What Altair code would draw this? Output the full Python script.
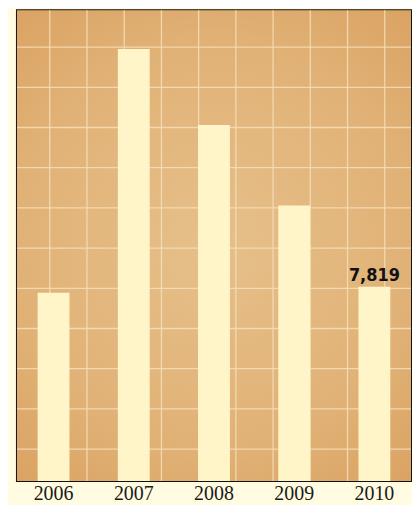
import altair as alt
import pandas as pd

# Data
years = ["2006", "2007", "2008", "2009", "2010"]
values = [7580, 17400, 14340, 11100, 7819]
labels = ["", "", "", "", "7,819"]

# decorative grid values (axis tick values)
hgrid = [1280, 2900, 4520, 6140, 7760, 9380, 11000, 12620, 14240, 15860, 17480]
vgrid = [1, 2, 3, 4, 5, 6, 7, 8, 9, 10]

df = pd.DataFrame({"year": years, "value": values, "label": labels})
vdf = pd.DataFrame({"g": vgrid})
hdf = pd.DataFrame({"h": hgrid})

GRID = "#F5DFBA"
LABEL_FONT = "Liberation Serif"
NUM_FONT = "DejaVu Sans Condensed, Liberation Sans Narrow, sans-serif"

parchment = alt.RadialGradient(
    gradient="radial", x1=0.5, y1=0.5, r1=0, x2=0.5, y2=0.5, r2=0.75,
    stops=[
        alt.GradientStop(offset=0, color="#E6C08A"),
        alt.GradientStop(offset=0.55, color="#E1B277"),
        alt.GradientStop(offset=1, color="#D79D5A"),
    ],
)

bg = alt.Chart(pd.DataFrame({"a": [0]})).mark_rect(color=parchment).encode(
    x=alt.value(0), x2=alt.value("width"), y=alt.value(0), y2=alt.value("height")
)

vrules = alt.Chart(vdf).mark_rule(color=GRID, strokeWidth=1.3, opacity=0.85).encode(
    x=alt.X("g:Q", scale=alt.Scale(domain=[0.1176, 10.706], nice=False, zero=False), axis=None)
)

yscale = alt.Scale(domain=[0, 18966], nice=False, zero=True)

hrules = alt.Chart(hdf).mark_rule(color=GRID, strokeWidth=1.3, opacity=0.85).encode(
    y=alt.Y("h:Q", scale=yscale, axis=None)
)

base = alt.Chart(df)

xenc = alt.X(
    "year:N",
    sort=years,
    scale=alt.Scale(paddingInner=0.603, paddingOuter=0.258),
    axis=alt.Axis(
        title=None, labelAngle=0, ticks=False, domain=False, grid=False,
        labelFont=LABEL_FONT, labelFontSize=20, labelColor="#1a1a1a", labelPadding=3,
    ),
)

bars = base.mark_bar(color="#FFF5C8").encode(
    x=xenc, y=alt.Y("value:Q", scale=yscale, axis=None)
)

text = base.transform_filter("datum.label != ''").mark_text(
    baseline="bottom", dy=-2, font=NUM_FONT, fontWeight="bold", fontSize=18, color="#111111"
).encode(x=alt.X("year:N", sort=years), y="value:Q", text="label:N")

chart = (
    alt.layer(bg, vrules, alt.layer(hrules, bars, text))
    .resolve_scale(x="independent")
    .properties(
        width=396, height=473,
        padding={"left": 8, "top": 0, "right": 0, "bottom": 0},
        background="#FFFCE2",
    )
    .configure_view(stroke="#111111", strokeWidth=2)
)

chart.save("out.html", embed_options={"renderer": "svg", "actions": False})
